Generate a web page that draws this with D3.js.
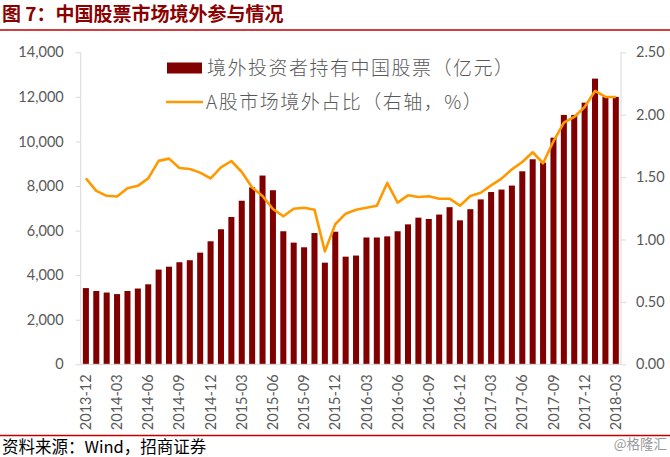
<!DOCTYPE html>
<html><head><meta charset="utf-8">
<script src="https://cdn.jsdelivr.net/npm/d3@7"></script>
<style>
body{margin:0;background:#fff;}
svg{display:block;}
</style></head>
<body>
<svg id="c" width="670" height="457"></svg>
<script>
const months = [];
(function(){ let y=2013,m=12; for(let i=0;i<52;i++){ months.push(y+"-"+String(m).padStart(2,"0")); m++; if(m>12){m=1;y++;} } })();
const holdings = [3420,3290,3220,3150,3290,3400,3590,4250,4380,4580,4670,5010,
  5520,6060,6610,7340,7940,8470,7810,5970,5460,5250,5890,4560,5950,4830,4880,
  5690,5690,5740,5970,6280,6580,6520,6720,7050,6460,6960,7400,7730,7840,8020,
  8660,9200,9050,10170,11190,11190,11740,12820,12000,12000];
const share = [1.49,1.39,1.35,1.345,1.41,1.43,1.49,1.63,1.648,1.573,1.565,1.536,
  1.49,1.578,1.629,1.541,1.416,1.349,1.244,1.186,1.247,1.255,1.239,0.905,1.122,1.207,1.239,
  1.255,1.27,1.453,1.295,1.354,1.341,1.346,1.327,1.327,1.271,1.349,1.375,1.434,1.488,1.562,
  1.621,1.699,1.611,1.787,1.936,1.982,2.062,2.19,2.142,2.142];
const leftTicks = [0,2000,4000,6000,8000,10000,12000,14000];
const rightTicks = [0,0.5,1.0,1.5,2.0,2.5];
const xTickLabels = months.filter((d,i)=>i%3===0);
const title = "图 7：中国股票市场境外参与情况";
const source = "资料来源：Wind，招商证券";
const legendBar = "境外投资者持有中国股票（亿元）";
const legendLine = "A股市场境外占比（右轴，%）";

const svg = d3.select("#c");
const L=80.7, R=621, T=52.3, B=364.3;
const numFont = "Lato, 'Noto Sans', sans-serif";
const cjk = "'Noto Sans CJK SC', sans-serif";

const x = d3.scaleBand().domain(months).range([L,R]).paddingInner(0.42).paddingOuter(0.21);
const yL = d3.scaleLinear().domain([0,14000]).range([B,T]);
const yR = d3.scaleLinear().domain([0,2.5]).range([B,T]);

// title
svg.append("text").attr("x",2).attr("y",21).attr("fill","#8B0000")
  .attr("font-family",cjk).attr("font-weight","bold").attr("font-size",19).text(title);
svg.append("line").attr("x1",0).attr("x2",670).attr("y1",30).attr("y2",30).attr("stroke","#C00000").attr("stroke-width",1.3);

// bars
svg.append("g").selectAll("rect").data(holdings).join("rect")
  .attr("x",(d,i)=>x(months[i])).attr("width",x.bandwidth())
  .attr("y",d=>yL(d)).attr("height",d=>B-yL(d)).attr("fill","#800000");

// axes
const axL = svg.append("g").attr("transform",`translate(${L},0)`)
  .call(d3.axisLeft(yL).tickValues(leftTicks).tickFormat(d3.format(",")).tickSize(5).tickPadding(12));
const axR = svg.append("g").attr("transform",`translate(${R},0)`)
  .call(d3.axisRight(yR).tickValues(rightTicks).tickFormat(d3.format(".2f")).tickSize(5).tickPadding(10));
[axL,axR].forEach(a=>{
  a.select(".domain").attr("stroke","#D9D9D9");
  a.selectAll(".tick line").attr("stroke","#D9D9D9");
  a.selectAll("text").attr("fill","#595959").attr("font-family",numFont).attr("font-size",14.5);
});
axL.select(".domain").attr("d",`M0,${T}V${B}`);
axR.select(".domain").attr("d",`M0,${T}V${B}`);

const axB = svg.append("g").attr("transform",`translate(0,${B})`)
  .call(d3.axisBottom(x).tickValues(xTickLabels).tickSize(0));
axB.select(".domain").attr("stroke","#D9D9D9").attr("d",`M${L},0H${R}`);
axB.selectAll("text").attr("fill","#595959").attr("font-family",numFont).attr("font-size",14.5)
  .attr("transform","rotate(-90)").attr("text-anchor","end").attr("dx","-10").attr("dy","0.35em").attr("y",0).attr("x",0);

// line
const line = d3.line().x((d,i)=>x(months[i])+x.bandwidth()/2).y(d=>yR(d));
svg.append("path").datum(share).attr("d",line).attr("fill","none")
  .attr("stroke","#FF9900").attr("stroke-width",2.6).attr("stroke-linejoin","round");

// legend
svg.append("rect").attr("x",167).attr("y",62.5).attr("width",35).attr("height",11).attr("fill","#800000");
svg.append("text").attr("x",207).attr("y",75).attr("fill","#595959").attr("font-family",cjk).attr("font-weight",300)
  .attr("font-size",19).attr("letter-spacing",1.5).text(legendBar);
svg.append("line").attr("x1",166).attr("x2",203).attr("y1",102).attr("y2",102).attr("stroke","#FF9900").attr("stroke-width",2.6);
svg.append("text").attr("x",206).attr("y",109).attr("fill","#595959").attr("font-family",cjk).attr("font-weight",300)
  .attr("font-size",19).attr("letter-spacing",1.5).text(legendLine);

// footer
svg.append("line").attr("x1",0).attr("x2",670).attr("y1",435.5).attr("y2",435.5).attr("stroke","#C00000").attr("stroke-width",1.3);
svg.append("text").attr("x",2).attr("y",452.5).attr("fill","#000").attr("font-family",cjk).attr("font-size",16.5).text(source);
svg.append("text").attr("x",667).attr("y",449).attr("text-anchor","end").attr("fill","#999").attr("font-family",cjk).attr("font-size",13.5).text("@格隆汇");
</script>
</body></html>
